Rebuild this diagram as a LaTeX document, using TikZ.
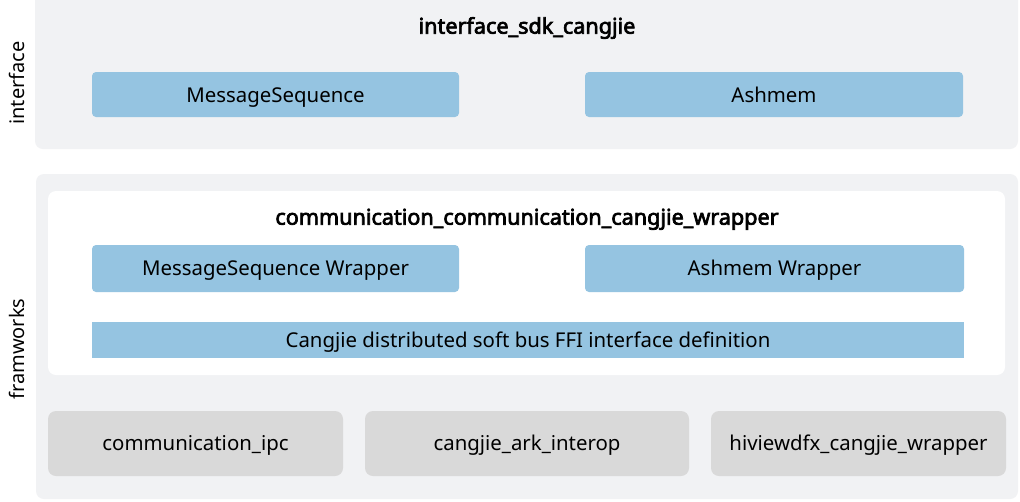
\documentclass[tikz,border=0pt]{standalone}
\usepackage{fontspec}
\setmainfont{Noto Sans}[AutoFakeBold=3.2]
\definecolor{panelgrey}{HTML}{F1F2F4}
\definecolor{modblue}{HTML}{95C4E1}
\definecolor{depgrey}{HTML}{D9D9D9}
\begin{document}
\begin{tikzpicture}[x=0.75pt,y=-0.75pt,
  panel/.style={fill=panelgrey,draw=none,rounded corners=6pt},
  inner/.style={fill=white,draw=none,rounded corners=6pt},
  mod/.style={fill=modblue,draw=none,rounded corners=3pt},
  bar/.style={fill=modblue,draw=none},
  dep/.style={fill=depgrey,draw=none,rounded corners=6pt},
  lbl/.style={font=\fontsize{15.3pt}{18pt}\selectfont,text height=11pt,text depth=0pt,inner sep=0pt},
  ttl/.style={font=\fontsize{16.2pt}{19pt}\selectfont\bfseries,text height=11.5pt,text depth=0pt,inner sep=0pt},
  side/.style={rotate=90,font=\fontsize{15pt}{18pt}\selectfont,text height=11pt,text depth=0pt,inner sep=0pt}]
\useasboundingbox (0,0) rectangle (1020,501);
\fill[white] (0,0) rectangle (1020,501);

% layer panels
\path[panel] (35,-8) rectangle (1018,149);
\path[panel] (36,174) rectangle (1018,499);
\path[inner] (48,191) rectangle (1005,375);

% interface layer
\node[ttl] (sdk) at (527,26) {interface\_sdk\_cangjie};
\path[mod] (92,72) rectangle (459,117);
\node[lbl] (ms) at (275.5,95) {MessageSequence};
\path[mod] (585,72) rectangle (963,117);
\node[lbl] (ash) at (774,95) {Ashmem};

% wrapper component
\node[ttl] (wrap) at (527,217) {communication\_communication\_cangjie\_wrapper};
\path[mod] (92,245) rectangle (459,292);
\node[lbl] (msw) at (275.5,268.5) {MessageSequence Wrapper};
\path[mod] (585,245) rectangle (964,292);
\node[lbl] (ashw) at (774.5,268.5) {Ashmem Wrapper};
\path[bar] (92,322) rectangle (964,358);
\node[lbl] (ffi) at (528,340) {Cangjie distributed soft bus FFI interface definition};

% dependencies
\path[dep] (48,411) rectangle (343,476);
\node[lbl] (ipc) at (195.5,443.5) {communication\_ipc};
\path[dep] (365,411) rectangle (689,476);
\node[lbl] (ark) at (527,443.5) {cangjie\_ark\_interop};
\path[dep] (711,411) rectangle (1006,476);
\node[lbl] (dfx) at (858.5,443.5) {hiviewdfx\_cangjie\_wrapper};

% layer labels
\node[side] (lint) at (17,83) {interface};
\node[side] (lfw) at (17,349) {framworks};
\end{tikzpicture}
\end{document}
